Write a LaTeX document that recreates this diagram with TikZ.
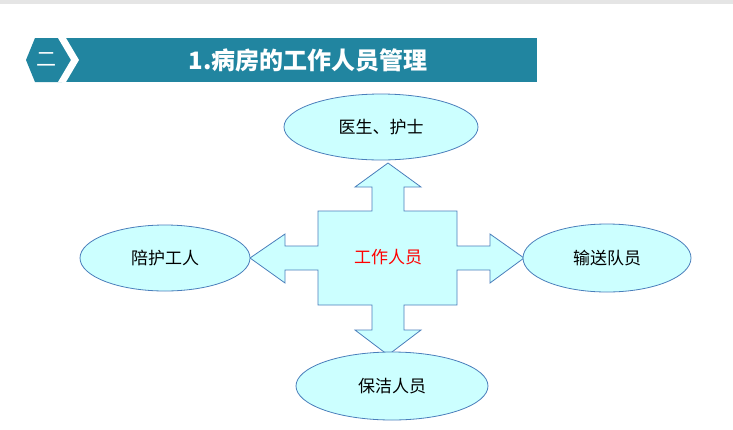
\documentclass[tikz,border=0pt]{standalone}
\usepackage{fontspec}
\usetikzlibrary{shapes.geometric}
\setmainfont{Noto Sans CJK SC}
\definecolor{cyanfill}{HTML}{CCFFFF}
\definecolor{edge}{HTML}{4A7EBB}
\definecolor{banner}{HTML}{2185A0}
\begin{document}
\begin{tikzpicture}[x=1pt,y=-1pt,
  oval/.style={ellipse,draw=edge,fill=cyanfill,line width=0.8pt,font=\fontsize{17}{20}\selectfont},
]
\useasboundingbox (0,0) rectangle (733,429);
\fill[gray!20] (0,0) rectangle (733,4);
\fill[banner] (55,38) rectangle (537,82);
\fill[banner] (26,60) -- (35,38) -- (62,38) -- (71,60) -- (62,82) -- (35,82) -- cycle;
\fill[white] (58,38) -- (66,38) -- (79,60) -- (66,82) -- (58,82) -- (71,60) -- cycle;
\node[text=white,font=\fontsize{20}{24}\selectfont] (num) at (46,60) {二};
\node[text=white,font=\fontsize{24}{28}\selectfont\bfseries] (title) at (308,60) {1.病房的工作人员管理};
\draw[edge,fill=cyanfill,line width=0.8pt]
 (318,211) -- (372,211) -- (372,187) -- (355,187) -- (388,163) -- (421,187) -- (404,187) -- (404,211)
 -- (457,211) -- (457,246) -- (490,246) -- (490,234) -- (524,258) -- (490,283) -- (490,270) -- (457,270)
 -- (457,305) -- (404,305) -- (404,330) -- (421,330) -- (388,355) -- (355,330) -- (372,330) -- (372,305)
 -- (318,305) -- (318,270) -- (285,270) -- (285,283) -- (250,258) -- (285,234) -- (285,246) -- (318,246) -- cycle;
\node[text=red,font=\fontsize{17}{20}\selectfont] (center) at (388,257) {工作人员};
\node[oval,minimum width=194pt,minimum height=66pt] (top) at (381,127) {医生、护士};
\node[oval,minimum width=170pt,minimum height=66pt] (left) at (165,258) {陪护工人};
\node[oval,minimum width=168pt,minimum height=68pt] (right) at (607,258) {输送队员};
\node[oval,minimum width=192pt,minimum height=68pt] (bottom) at (392,386) {保洁人员};
\end{tikzpicture}
\end{document}
